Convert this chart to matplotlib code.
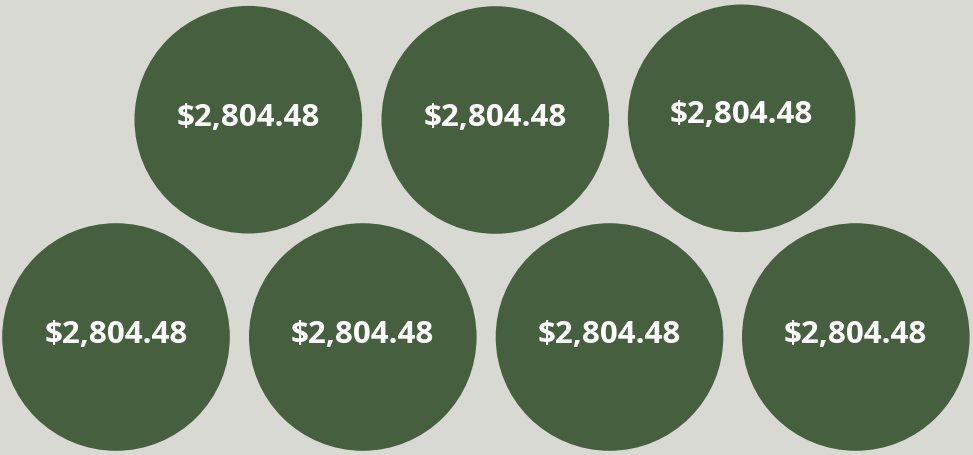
import matplotlib.pyplot as plt
from matplotlib.patches import Circle

# Values shown in the bubbles
values = [2804.48, 2804.48, 2804.48, 2804.48, 2804.48, 2804.48, 2804.48]

# Layout (pixel space of the 973x455 canvas)
centers_x = [248.3, 495.3, 741.7, 116.0, 362.8, 609.5, 855.8]
centers_y = [119.7, 120.0, 118.3, 337.0, 337.0, 337.0, 337.0]
text_dy = [-1.5, -1.5, -3.5, -2.0, -2.0, -2.0, -2.0]
radius = 113.8

bg_color = "#d8d9d3"
bubble_color = "#465f3f"

fig = plt.figure(figsize=(9.73, 4.55), dpi=100, facecolor=bg_color)
ax = fig.add_axes([0, 0, 1, 1])
ax.set_facecolor(bg_color)
ax.set_xlim(0, 973)
ax.set_ylim(455, 0)
ax.set_aspect("equal")
ax.axis("off")

for v, cx, cy, dy in zip(values, centers_x, centers_y, text_dy):
    ax.add_patch(Circle((cx, cy), radius, facecolor=bubble_color, edgecolor="none"))
    ax.text(cx, cy + dy, f"${v:,.2f}", color="white", fontsize=22.6,
            fontweight="bold", family=["Open Sans", "DejaVu Sans"],
            ha="center", va="center")

fig.savefig("out.png", dpi=100, facecolor=bg_color)
